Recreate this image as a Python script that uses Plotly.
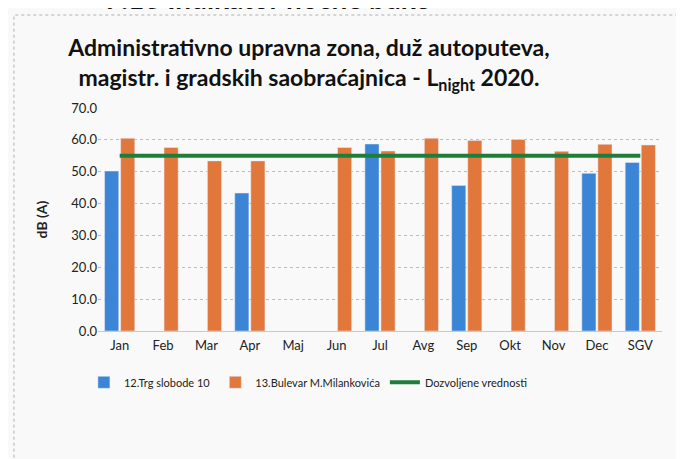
import plotly.graph_objects as go

categories = ["Jan", "Feb", "Mar", "Apr", "Maj", "Jun", "Jul", "Avg", "Sep", "Okt", "Nov", "Dec", "SGV"]
trg_slobode = [50.2, None, None, 43.3, None, None, 58.7, None, 45.7, None, None, 49.5, 52.9]
bulevar = [60.5, 57.6, 53.4, 53.4, None, 57.6, 56.5, 60.5, 59.8, 60.1, 56.4, 58.6, 58.4]
dozvoljene = [55.0] * len(categories)
y_ticks = [0, 10, 20, 30, 40, 50, 60, 70]

FONT = "Lato"

fig = go.Figure()
fig.add_trace(go.Bar(x=categories, y=trg_slobode, name="12.Trg slobode 10",
                     marker=dict(color="#3b84d6")))
fig.add_trace(go.Bar(x=categories, y=bulevar, name="13.Bulevar M.Milankovića",
                     marker=dict(color="#e2773c")))
fig.add_trace(go.Scatter(x=categories, y=dozvoljene, name="Dozvoljene vrednosti",
                         mode="lines", line=dict(color="#1f7d3c", width=4)))

fig.update_layout(
    width=684, height=459,
    margin=dict(l=90, r=30, t=100, b=136),
    paper_bgcolor="#f9f9f9", plot_bgcolor="#f9f9f9",
    barmode="group", bargap=0.26, bargroupgap=0.12,
    font=dict(family=FONT, color="#222222", size=12),
    showlegend=True,
    legend=dict(orientation="h", x=-0.025, xanchor="left", y=-0.165, yanchor="top",
                font=dict(size=11, family=FONT), itemwidth=30, bgcolor="rgba(0,0,0,0)",
                traceorder="normal"),
    title=dict(text="<b>Administrativno upravna zona, duž autoputeva,<br>magistr. i gradskih saobraćajnica - L<sub>night</sub> 2020.</b>",
               x=0.44, xanchor="center", y=0.895, yanchor="top",
               font=dict(size=23, family=FONT, color="#111111")),
)

fig.update_xaxes(type="category", showgrid=False, showline=True, linecolor="#c8c8c8",
                 ticks="", tickfont=dict(size=13, family=FONT), ticklabelstandoff=2)
fig.update_yaxes(range=[0, 70], tickvals=y_ticks, tickformat=".1f",
                 showgrid=True, gridcolor="#bdbdbd", griddash="dot", gridwidth=1,
                 zeroline=False, showline=False, ticks="",
                 tickfont=dict(size=13, family=FONT),
                 title=dict(text="<b>dB (A)</b>", font=dict(size=14, family=FONT), standoff=20))

# chart frame
fig.add_shape(type="rect", xref="paper", yref="paper",
              x0=-0.149, x1=1.2, y0=-0.9, y1=1.417,
              line=dict(color="#b0b0b0", width=1, dash="dot"), layer="below")

# cropped page heading at the very top
fig.add_annotation(xref="paper", yref="paper", x=0.30, y=1.406, xanchor="center", yanchor="bottom",
                   text="<b>7.13 Indikator noćne buke</b>", showarrow=False,
                   font=dict(size=28, family=FONT, color="#111111"))

fig.write_html("out.html")
